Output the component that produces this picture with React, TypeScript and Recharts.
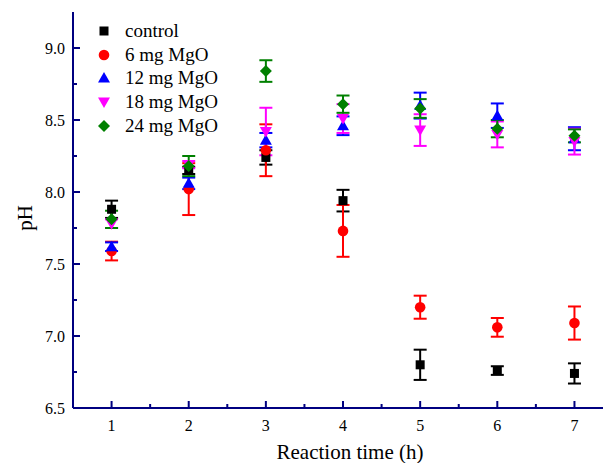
import React from 'react'
import {
  ScatterChart, Scatter, XAxis, YAxis, ErrorBar, Label,
} from 'recharts'

const hours = [1, 2, 3, 4, 5, 6, 7]

const control = [7.88, 8.15, 8.24, 7.94, 6.80, 6.76, 6.74]
const controlErr = [0.06, 0.025, 0.05, 0.075, 0.105, 0.03, 0.07]
const mg6 = [7.59, 8.02, 8.29, 7.73, 7.20, 7.06, 7.09]
const mg6Err = [0.065, 0.18, 0.18, 0.18, 0.08, 0.065, 0.115]
const mg12 = [7.62, 8.06, 8.36, 8.46, 8.60, 8.53, 8.37]
const mg12Err = [0.03, 0.04, 0.05, 0.065, 0.09, 0.085, 0.08]
const mg18 = [7.78, 8.19, 8.42, 8.51, 8.43, 8.40, 8.35]
const mg18Err = [0.03, 0.025, 0.165, 0.10, 0.11, 0.09, 0.09]
const mg24 = [7.81, 8.18, 8.84, 8.61, 8.58, 8.44, 8.39]
const mg24Err = [0.06, 0.07, 0.075, 0.06, 0.065, 0.06, 0.045]

const xTicks = [1, 1.5, 2, 2.5, 3, 3.5, 4, 4.5, 5, 5.5, 6, 6.5, 7]
const yTicks = [6.5, 6.75, 7.0, 7.25, 7.5, 7.75, 8.0, 8.25, 8.5, 8.75, 9.0]

const AXIS = '#000080'
const FONT = "'Liberation Serif', 'Times New Roman', serif"

type Kind = 'square' | 'circle' | 'up' | 'down' | 'diamond'

const series: { name: string; values: number[]; err: number[]; color: string; kind: Kind }[] = [
  { name: 'control', values: control, err: controlErr, color: '#000000', kind: 'square' },
  { name: '6 mg MgO', values: mg6, err: mg6Err, color: '#ff0000', kind: 'circle' },
  { name: '12 mg MgO', values: mg12, err: mg12Err, color: '#0000ff', kind: 'up' },
  { name: '18 mg MgO', values: mg18, err: mg18Err, color: '#ff00ff', kind: 'down' },
  { name: '24 mg MgO', values: mg24, err: mg24Err, color: '#008000', kind: 'diamond' },
]

function Marker({ kind, cx, cy, color }: { kind: Kind; cx: number; cy: number; color: string }) {
  if (cx == null || cy == null) return null
  switch (kind) {
    case 'square':
      return <rect x={cx - 4.5} y={cy - 4.5} width={9} height={9} fill={color} />
    case 'circle':
      return <circle cx={cx} cy={cy} r={5.3} fill={color} />
    case 'up':
      return <polygon points={`${cx},${cy - 6} ${cx + 6},${cy + 4.5} ${cx - 6},${cy + 4.5}`} fill={color} />
    case 'down':
      return <polygon points={`${cx},${cy + 6} ${cx + 6},${cy - 4.5} ${cx - 6},${cy - 4.5}`} fill={color} />
    default:
      return <polygon points={`${cx},${cy - 6} ${cx + 6},${cy} ${cx},${cy + 6} ${cx - 6},${cy}`} fill={color} />
  }
}

function BottomTick({ x, y, payload }: any) {
  const v = payload.value
  const major = Math.abs(v - Math.round(v)) < 1e-6
  return (
    <g>
      <line x1={x} x2={x} y1={y} y2={y - (major ? 7 : 4)} stroke={AXIS} strokeWidth={2} />
      {major && (
        <text x={x} y={y + 23} textAnchor="middle" fontSize={16} fontFamily={FONT} fill="#000">{v}</text>
      )}
    </g>
  )
}

function TopTick({ x, y, payload }: any) {
  const v = payload.value
  const major = Math.abs(v - Math.round(v)) < 1e-6
  return <line x1={x} x2={x} y1={y} y2={y + (major ? 7 : 4)} stroke={AXIS} strokeWidth={2} />
}

function LeftTick({ x, y, payload }: any) {
  const v = payload.value
  const major = Math.abs(v * 2 - Math.round(v * 2)) < 1e-6
  return (
    <g>
      <line x1={x} x2={x + (major ? 7 : 4)} y1={y} y2={y} stroke={AXIS} strokeWidth={2} />
      {major && (
        <text x={x - 8} y={y + 5.5} textAnchor="end" fontSize={16} fontFamily={FONT} fill="#000">{v.toFixed(1)}</text>
      )}
    </g>
  )
}

function LegendBox() {
  return (
    <div style={{ position: 'absolute', left: 96, top: 19, fontFamily: FONT, fontSize: 19, color: '#000' }}>
      {series.map((s) => (
        <div key={s.name} style={{ display: 'flex', alignItems: 'center', height: 23.7 }}>
          <svg width={16} height={16} style={{ marginRight: 13 }}>
            <Marker kind={s.kind} cx={8} cy={8} color={s.color} />
          </svg>
          <span>{s.name}</span>
        </div>
      ))}
    </div>
  )
}

export default function App() {
  return (
    <div style={{ position: 'absolute', left: 0, top: 0, width: 603, height: 463, background: '#fff' }}>
      <ScatterChart width={603} height={463} margin={{ top: 12, right: 0, bottom: 0, left: 0 }}>
        <XAxis
          type="number"
          dataKey="x"
          domain={[0.5, 7.37]}
          ticks={xTicks}
          allowDataOverflow
          height={55}
          tickSize={0}
          tickMargin={0}
          tickLine={false}
          axisLine={{ stroke: AXIS, strokeWidth: 2 }}
          tick={<BottomTick />}
          interval={0}
        >
          <Label
            content={() => (
              <text x={350} y={459} textAnchor="middle" fontSize={21} fontFamily={FONT} fill="#000">Reaction time (h)</text>
            )}
          />
        </XAxis>
        <XAxis
          xAxisId="top"
          orientation="top"
          type="number"
          domain={[0.5, 7.37]}
          ticks={xTicks}
          allowDataOverflow
          height={0}
          tickSize={0}
          tickMargin={0}
          tickLine={false}
          axisLine={{ stroke: AXIS, strokeWidth: 2 }}
          tick={<TopTick />}
          interval={0}
        />
        <YAxis
          type="number"
          dataKey="y"
          domain={[6.5, 9.25]}
          ticks={yTicks}
          allowDataOverflow
          width={73}
          tickSize={0}
          tickMargin={0}
          tickLine={false}
          axisLine={{ stroke: AXIS, strokeWidth: 2 }}
          tick={<LeftTick />}
          interval={0}
        >
          <Label
            content={() => (
              <text x={32} y={218} transform="rotate(-90 32 218)" textAnchor="middle" fontSize={21} fontFamily={FONT} fill="#000">pH</text>
            )}
          />
        </YAxis>
        {series.map((s) => (
          <Scatter
            key={s.name}
            name={s.name}
            data={hours.map((h, i) => ({ x: h, y: s.values[i], err: s.err[i] }))}
            fill={s.color}
            isAnimationActive={false}
            shape={(p: any) => <Marker kind={s.kind} cx={p.cx} cy={p.cy} color={s.color} />}
          >
            <ErrorBar dataKey="err" direction="y" width={6.5} stroke={s.color} strokeWidth={2} isAnimationActive={false} />
          </Scatter>
        ))}
      </ScatterChart>
      <LegendBox />
    </div>
  )
}
